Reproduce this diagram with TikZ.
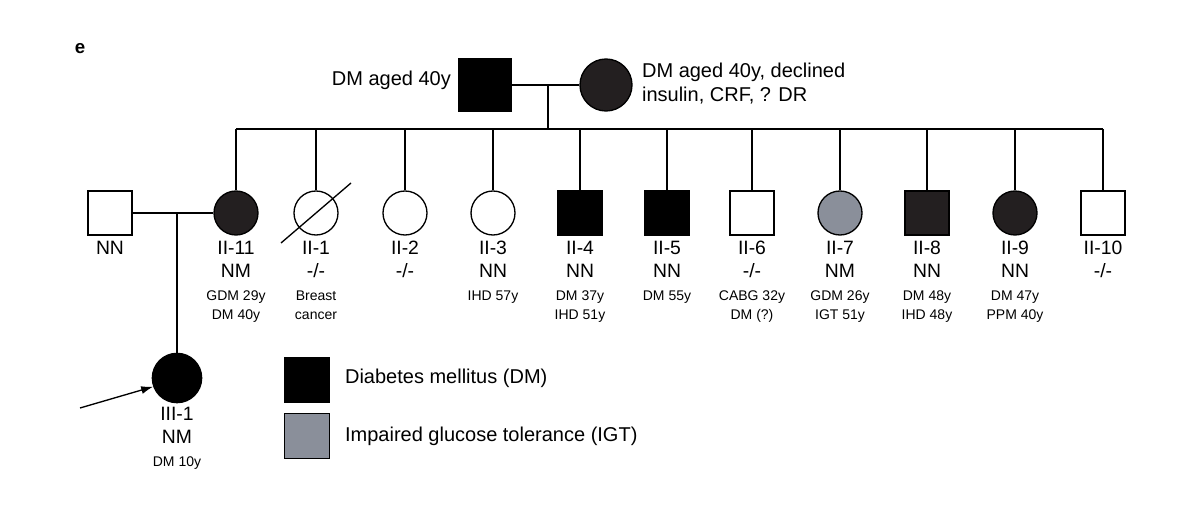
\documentclass[tikz,border=0pt]{standalone}
\usepackage{fontspec}
\setmainfont{Liberation Sans}
\usetikzlibrary{arrows.meta}
\definecolor{aff}{HTML}{000000}
\definecolor{affc}{HTML}{231F20}
\definecolor{igt}{HTML}{8A8F9A}
\begin{document}
\begin{tikzpicture}[x=0.75pt,y=-0.75pt,line width=1pt,
  sq/.style={draw,rectangle,minimum size=33pt,inner sep=0pt},
  ci/.style={draw,circle,minimum size=33pt,inner sep=0pt},
  lab/.style={align=center,font=\fontsize{14.5}{17.5}\selectfont,anchor=north},
  sm/.style={align=center,font=\fontsize{10.5}{14}\selectfont,anchor=north},
  txt/.style={font=\fontsize{15}{18}\selectfont}]
\path[use as bounding box] (0,0) rectangle (1200,527);
\node[font=\bfseries\fontsize{14}{14}\selectfont] (e) at (80,49) {e};
% gen I
\node[sq,fill=aff,minimum size=39pt] (f) at (485,85) {};
\node[ci,fill=affc,minimum size=39pt] (m) at (606,85) {};
\draw (f) -- (m);
\node[txt,anchor=east] (ft) at (456,80) {DM aged 40y};
\node[txt,anchor=west,align=left] (mt) at (637,84) {DM aged 40y, declined\\insulin, CRF, ? DR};
\coordinate (d0) at (548,85);
\coordinate (d1) at (548,129);
\draw (d0) -- (d1);
\coordinate (sl) at (236,129);
\coordinate (sr) at (1103,129);
\draw (sl) -- (sr);
% gen II
\node[sq] (nn) at (110,213) {};
\node[lab] (nnl) at (110,236) {NN};
\foreach \n/\x/\s/\f/\a/\b in {
 11/236/ci/affc/NM/{GDM 29y\\DM 40y},
 1/316/ci/white/-{/}-/{Breast\\cancer},
 2/405/ci/white/-{/}-/{},
 3/493/ci/white/NN/{IHD 57y},
 4/580/sq/aff/NN/{DM 37y\\IHD 51y},
 5/667/sq/aff/NN/{DM 55y},
 6/752/sq/white/-{/}-/{CABG 32y\\DM (?)},
 7/840/ci/igt/NM/{GDM 26y\\IGT 51y},
 8/927/sq/affc/NN/{DM 48y\\IHD 48y},
 9/1015/ci/affc/NN/{DM 47y\\PPM 40y},
 10/1103/sq/white/-{/}-/{}}{
  \node[\s,fill=\f] (c\n) at (\x,213) {};
  \coordinate (t\n) at (\x,129);
  \draw (t\n) -- (c\n);
  \node[lab] (l\n) at (\x,236) {II-\n\\\a};
  \node[sm] (s\n) at (\x,286) {\b};
}
\draw (c1.center) ++(-35,30) coordinate (x1) -- ++(70,-60) coordinate (x2);
\draw (nn) -- (c11);
\coordinate (m2) at (177,213);
% gen III
\node[ci,fill=black,minimum size=37pt] (p) at (177,378) {};
\draw (m2) -- (p);
\node[lab] (pl) at (177,402) {III-1\\NM};
\node[sm] (ps) at (177,452) {DM 10y};
\coordinate (ar) at (80,408);
\draw[-{Latex[length=9pt,width=6pt]}] (ar) -- (p.200);
% legend
\node[sq,fill=black,minimum size=34pt] (k1) at (307,380) {};
\node[sq,fill=igt,minimum size=34pt] (k2) at (307,436) {};
\node[txt,anchor=west] (k1t) at (340,378) {Diabetes mellitus (DM)};
\node[txt,anchor=west] (k2t) at (340,436) {Impaired glucose tolerance (IGT)};
\end{tikzpicture}
\end{document}
